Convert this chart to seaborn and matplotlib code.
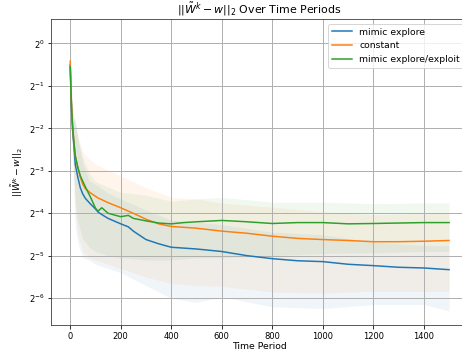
import numpy as np
import pandas as pd
import matplotlib
matplotlib.use("Agg")
import matplotlib.pyplot as plt
import seaborn as sns

# time periods where the mean curves were read
periods = [0, 3, 6, 10, 15, 20, 30, 40, 50, 60, 80, 100, 110, 125, 150, 200, 230, 250,
           300, 350, 400, 450, 500, 600, 700, 800, 900, 1000, 1100, 1200, 1300, 1400, 1500]

explore = [0.7071, 0.4353, 0.3078, 0.2333, 0.1830, 0.1387, 0.1127, 0.0947, 0.0854, 0.0797,
           0.0728, 0.0670, 0.0638, 0.0612, 0.0575, 0.0526, 0.0501, 0.0467, 0.0407, 0.0380,
           0.0359, 0.0354, 0.0349, 0.0335, 0.0313, 0.0298, 0.0288, 0.0284, 0.0272, 0.0266,
           0.0259, 0.0256, 0.0249]

constant = [0.7474, 0.4665, 0.3299, 0.2500, 0.1961, 0.1593, 0.1321, 0.1127, 0.1001, 0.0934,
            0.0872, 0.0825, 0.0802, 0.0780, 0.0743, 0.0684, 0.0647, 0.0625, 0.0567, 0.0526,
            0.0504, 0.0497, 0.0490, 0.0467, 0.0451, 0.0430, 0.0415, 0.0407, 0.0401, 0.0393,
            0.0393, 0.0396, 0.0401]

explore_exploit = [0.6830, 0.4506, 0.3299, 0.2500, 0.1961, 0.1593, 0.1321, 0.1150, 0.1051, 0.0961,
                   0.0814, 0.0679, 0.0647, 0.0684, 0.0625, 0.0591, 0.0604, 0.0575, 0.0552, 0.0533,
                   0.0526, 0.0537, 0.0544, 0.0556, 0.0544, 0.0529, 0.0537, 0.0537, 0.0526, 0.0529,
                   0.0533, 0.0537, 0.0537]

# shaded bands (mean +/- std), read on a coarser grid
band_periods = [0, 5, 10, 20, 30, 50, 75, 100, 150, 200, 300, 400, 500, 600, 800, 1000, 1200, 1400, 1500]

explore_lo = [0.683, 0.25, 0.165, 0.0508, 0.0385, 0.0302, 0.0292, 0.0272, 0.0254, 0.0237,
              0.0192, 0.0156, 0.0146, 0.0160, 0.0136, 0.0132, 0.0141, 0.0141, 0.0127]
explore_hi = [0.731, 0.457, 0.302, 0.279, 0.212, 0.141, 0.107, 0.100, 0.087, 0.079,
              0.066, 0.056, 0.054, 0.052, 0.046, 0.044, 0.039, 0.037, 0.037]

constant_lo = [0.722, 0.268, 0.165, 0.0625, 0.0442, 0.0335, 0.0302, 0.0292, 0.0272, 0.0254,
               0.0221, 0.0199, 0.0192, 0.0190, 0.0173, 0.0170, 0.0175, 0.0175, 0.0175]
constant_hi = [0.773, 0.49, 0.335, 0.279, 0.224, 0.170, 0.152, 0.140, 0.126, 0.115,
               0.095, 0.081, 0.079, 0.074, 0.069, 0.064, 0.061, 0.062, 0.063]

ee_lo = [0.66, 0.29, 0.17, 0.075, 0.055, 0.041, 0.0359, 0.0335, 0.0313, 0.0302,
         0.0292, 0.0292, 0.0302, 0.0302, 0.0313, 0.0324, 0.0328, 0.0335, 0.0335]
ee_hi = [0.706, 0.468, 0.33, 0.267, 0.213, 0.155, 0.121, 0.105, 0.096, 0.088,
         0.084, 0.076, 0.079, 0.081, 0.075, 0.075, 0.073, 0.074, 0.074]

labels = ["mimic explore", "constant", "mimic explore/exploit"]
colors = ["#1f77b4", "#ff7f0e", "#2ca02c"]

# long format for seaborn
df = pd.DataFrame({
    "Time Period": periods * 3,
    "err": explore + constant + explore_exploit,
    "strategy": [labels[0]] * len(periods) + [labels[1]] * len(periods) + [labels[2]] * len(periods),
})

fig = plt.figure(figsize=(462 / 72, 355 / 72), dpi=72)
ax = fig.add_axes([0.111, 0.0845, 0.902, 0.861])

bands = [(explore_lo, explore_hi), (constant_lo, constant_hi), (ee_lo, ee_hi)]
for (lo, hi), c in zip(bands, colors):
    ax.fill_between(band_periods, lo, hi, color=c, alpha=0.07, linewidth=0)

sns.lineplot(data=df, x="Time Period", y="err", hue="strategy", hue_order=labels,
             palette=colors, linewidth=1.5, errorbar=None, ax=ax)

ax.set_yscale("log", base=2)
ax.set_ylim(2 ** -6.63, 2 ** 0.565)
ax.set_xlim(-75, 1575)
ax.grid(True, color="#b0b0b0", linewidth=1.0)
ax.tick_params(labelsize=8.4)
for s in ax.spines.values():
    s.set_color("#333333")

ax.set_title(r"$||\tilde{W}^k - w||_2$ Over Time Periods", fontsize=11)
ax.set_xlabel("Time Period", fontsize=9.2, labelpad=1)
ax.set_ylabel(r"$||\tilde{W}^k - w||_2$", fontsize=9.2)

ax.legend(loc="upper right", fontsize=9.2, handlelength=2.2, title=None)

fig.savefig("out.png", dpi=72)
